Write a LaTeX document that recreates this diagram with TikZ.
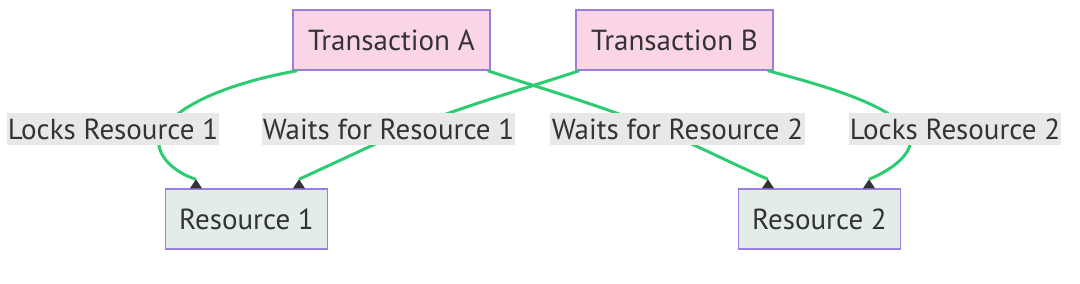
\documentclass[tikz,border=0pt]{standalone}
\usepackage{fontspec}
\setmainfont{PT Sans}
\definecolor{txt}{HTML}{333333}
\definecolor{pinkfill}{HTML}{F9D5E5}
\definecolor{resfill}{HTML}{E2ECE8}
\definecolor{border}{HTML}{9B7FDD}
\definecolor{edgegreen}{HTML}{2ECC71}
\definecolor{lblbg}{HTML}{E8E8E8}
\tikzset{
  base/.style={draw=border, line width=1.4pt, text=txt, font=\fontsize{29}{32}\selectfont, inner sep=0pt},
  txbox/.style={base, fill=pinkfill, minimum width=197pt, minimum height=60pt},
  resbox/.style={base, fill=resfill, minimum width=162pt, minimum height=60pt},
  lbl/.style={fill=lblbg, text=txt, font=\fontsize{29}{32}\selectfont, inner sep=0pt, minimum height=32pt},
  edge/.style={draw=edgegreen, line width=3pt},
  tip/.style={fill=txt}
}
\begin{document}
\begin{tikzpicture}[x=1pt,y=-1pt]
\useasboundingbox (0,0) rectangle (1080,284);
% label positions (drawn later on top of edges)
\coordinate (cL1) at (113,129);
\coordinate (cL2) at (388.5,129);
\coordinate (cL3) at (677.5,129);
\coordinate (cL4) at (955,129);
\node[txbox] (A) at (391.5,40) {Transaction A};
\node[txbox] (B) at (674.5,40) {Transaction B};
\node[resbox] (R1) at (246.5,219) {Resource 1};
\node[resbox] (R2) at (819.5,219) {Resource 2};
% tip apex points
\coordinate (t1) at ([xshift=-50.5pt,yshift=9pt]R1.north);
\coordinate (t2) at ([xshift=52.5pt,yshift=9pt]R1.north);
\coordinate (t3) at ([xshift=-51.5pt,yshift=9pt]R2.north);
\coordinate (t4) at ([xshift=49.5pt,yshift=9pt]R2.north);
% edges
\draw[edge] ([xshift=5pt]A.south west) .. controls (245,80) and (184,99) .. ([xshift=50pt]cL1)
  .. controls (149,150) and (172,172) .. (t1);
\draw[edge] ([xshift=4pt]B.south west) .. controls (540,84) and (450,110) .. ([xshift=19.5pt]cL2)
  .. controls (375,144) and (330,165) .. (t2);
\draw[edge] ([xshift=-3pt]A.south east) .. controls (530,85) and (600,105) .. ([xshift=-19.5pt]cL3)
  .. controls (698,146) and (735,165) .. (t3);
\draw[edge] ([xshift=-6pt]B.south east) .. controls (822,85) and (888,104) .. ([xshift=-49pt]cL4)
  .. controls (922,149) and (892,170) .. (t4);
% labels
\node[lbl, minimum width=212pt] (L1) at (cL1) {Locks Resource 1};
\node[lbl, minimum width=253pt] (L2) at (cL2) {Waits for Resource 1};
\node[lbl, minimum width=255pt] (L3) at (cL3) {Waits for Resource 2};
\node[lbl, minimum width=212pt] (L4) at (cL4) {Locks Resource 2};
% arrow heads
\foreach \t in {t1,t2,t3,t4}{
  \fill[tip] (\t) -- ([xshift=-6pt,yshift=-9pt]\t) -- ([xshift=6pt,yshift=-9pt]\t) -- cycle;
}
\end{tikzpicture}
\end{document}
